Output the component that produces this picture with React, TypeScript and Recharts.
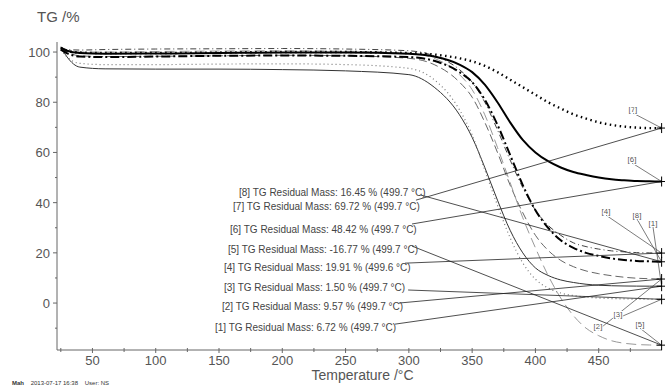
import { LineChart, Line, XAxis, YAxis, ReferenceLine, ReferenceDot } from 'recharts';

// temperatures (°C) shared by all series
const TEMPS = [25, 30, 40, 60, 100, 150, 200, 250, 300, 320, 340, 350, 360, 370, 380, 390, 400, 410, 420, 430, 440, 450, 460, 470, 480, 490, 499.7];

// TG (%) per sample
const S1 = [102, 98, 94, 93.3, 93.2, 93.2, 93, 92.5, 91, 86, 75, 66, 54, 41, 29, 20, 14, 11, 9.2, 8.2, 7.5, 7.1, 6.9, 6.8, 6.75, 6.73, 6.72];
const S2 = [101.5, 100, 98.5, 98.2, 98.3, 98.5, 98.7, 98.5, 97.5, 95, 88, 82, 72, 60, 47, 36, 27, 21, 17, 14.5, 12.8, 11.7, 10.9, 10.3, 9.9, 9.7, 9.57];
const S3 = [101, 98, 95.5, 95, 95, 95.2, 95.3, 95, 93.5, 89, 77, 67, 53, 39, 26, 16, 9.5, 6, 4, 3, 2.4, 2, 1.8, 1.65, 1.55, 1.52, 1.5];
const S4 = [102, 101, 100.8, 101, 101.2, 101.3, 101.4, 101.2, 100.5, 98.5, 93, 88, 80, 69, 57, 46, 37, 31, 27, 24, 22.5, 21.5, 20.8, 20.4, 20.1, 20, 19.91];
const S5 = [102, 100.5, 100, 100, 100.2, 100.4, 100.5, 100.3, 99.5, 97.5, 91, 85, 75, 62, 48, 34, 22, 11, 2, -5, -10, -13, -15, -16, -16.5, -16.7, -16.77];
const S6 = [101.8, 100.5, 99.6, 99.3, 99.4, 99.6, 99.8, 99.8, 99.3, 98.2, 95, 92, 87, 80, 72, 65, 60, 56.5, 54, 52.2, 51, 50, 49.3, 48.9, 48.6, 48.5, 48.42];
const S7 = [101.5, 100.5, 99.8, 99.6, 99.6, 99.8, 100, 100, 99.6, 99, 97.5, 96.3, 94.5, 92, 89, 86, 83, 80, 77.5, 75.2, 73.5, 72, 71, 70.3, 69.9, 69.7, 69.72];
const S8 = [101, 99.5, 98.2, 98, 98.2, 98.5, 98.6, 98.5, 98, 96.5, 92, 88, 81, 71, 59, 47, 37, 30, 25, 22, 20, 18.8, 17.8, 17.2, 16.8, 16.6, 16.45];

const X_TICKS = [25, 50, 75, 100, 125, 150, 175, 200, 225, 250, 275, 300, 325, 350, 375, 400, 425, 450, 475];
const Y_TICKS = [-10, 0, 10, 20, 30, 40, 50, 60, 70, 80, 90, 100];

// residual mass readouts
const IDS = ['1', '2', '3', '4', '5', '6', '7', '8'];
const RESIDUAL = [6.72, 9.57, 1.5, 19.91, -16.77, 48.42, 69.72, 16.45];
const AT_TEMP = [499.7, 499.7, 499.7, 499.6, 499.7, 499.7, 499.7, 499.7];
const END_T = 499.7;

// text box anchors (data units): [temp, value]
const BOX_POS = [[146.8, -11], [152.4, -2.6], [153.9, 5], [153.9, 12.9], [157.1, 20.1], [158.7, 28.1], [161.1, 36.9], [165.8, 42.8]];
const LEAD_FROM = [[289, -8.4], [292.2, 0], [299.4, 5.2], [297, 15.9], [302.5, 22.7], [302.5, 31.5], [305.6, 41], [309.6, 43]];
// little [n] tags next to the end crosses
const TAG_POS = [[492.9, 30.3], [449.4, -10.8], [465.2, -6], [455.8, 35], [482.6, -10], [476.3, 55.8], [477, 75.7], [480.2, 33.5]];

const STYLES = [
  { stroke: '#333', width: 1, dash: undefined },
  { stroke: '#666', width: 1, dash: '8 4' },
  { stroke: '#777', width: 1.2, dash: '1 3' },
  { stroke: '#444', width: 1, dash: '6 3 1 3' },
  { stroke: '#999', width: 1, dash: '10 5' },
  { stroke: '#000', width: 2, dash: undefined },
  { stroke: '#000', width: 2.4, dash: '1.5 3.5' },
  { stroke: '#000', width: 2, dash: '9 3 2 3' },
];

const SERIES = [S1, S2, S3, S4, S5, S6, S7, S8];
const rows = TEMPS.map((t, i) => {
  const r: Record<string, number> = { t };
  SERIES.forEach((s, k) => { r['s' + IDS[k]] = s[i]; });
  return r;
});

const FONT = 'Arial, "Liberation Sans", sans-serif';

function YTick(props: any) {
  const { x, y, payload } = props;
  const major = payload.value % 20 === 0;
  return (
    <g>
      <line x1={x - (major ? 4 : 2)} x2={x} y1={y} y2={y} stroke="#666" />
      {major && (
        <text x={x - 7} y={y + 5} textAnchor="end" fontSize={13} fill="#555" fontFamily={FONT}>{payload.value}</text>
      )}
    </g>
  );
}

function XTick(props: any) {
  const { x, y, payload } = props;
  const major = payload.value % 50 === 0;
  return (
    <g>
      <line x1={x} x2={x} y1={y - 2} y2={y + (major ? 3 : 2)} stroke="#666" />
      {major && (
        <text x={x} y={y + 15} textAnchor="middle" fontSize={13} fill="#555" fontFamily={FONT}>{payload.value}</text>
      )}
    </g>
  );
}

export default function App() {
  return (
    <div style={{ position: 'absolute', left: 0, top: 0, width: 665, height: 387, background: '#fff' }}>
      <div style={{ position: 'absolute', left: 37, top: 8, fontSize: 15, color: '#555', fontFamily: FONT }}>TG /%</div>
      <LineChart width={665} height={387} data={rows} margin={{ top: 42, right: 3, bottom: 17, left: 12 }}>
        <XAxis
          dataKey="t" type="number" domain={[22, 500]} ticks={X_TICKS} allowDataOverflow
          tick={<XTick />} tickLine={false} tickSize={0} tickMargin={0} height={20}
          axisLine={{ stroke: '#666' }} interval={0}
        />
        <YAxis
          type="number" domain={[-18.7, 104]} ticks={Y_TICKS} allowDataOverflow
          tick={<YTick />} tickLine={false} tickSize={0} tickMargin={0} width={45}
          axisLine={{ stroke: '#666' }} interval={0}
        />
        {SERIES.map((_, k) => (
          <Line
            key={k} dataKey={'s' + IDS[k]} type="monotone" dot={false} isAnimationActive={false}
            stroke={STYLES[k].stroke} strokeWidth={STYLES[k].width} strokeDasharray={STYLES[k].dash}
          />
        ))}
        {IDS.map((id, k) => (
          <ReferenceLine key={'l' + id} ifOverflow="visible" stroke="#222" strokeWidth={0.8}
            segment={[{ x: LEAD_FROM[k][0], y: LEAD_FROM[k][1] }, { x: END_T, y: RESIDUAL[k] }]} />
        ))}
        {IDS.map((id, k) => (
          <ReferenceLine key={'tl' + id} ifOverflow="visible" stroke="#444" strokeWidth={0.7}
            segment={[{ x: TAG_POS[k][0], y: TAG_POS[k][1] }, { x: END_T, y: RESIDUAL[k] }]} />
        ))}
        {IDS.map((id, k) => (
          <ReferenceDot key={'c' + id} x={END_T} y={RESIDUAL[k]} r={0} ifOverflow="visible"
            shape={(p: any) => (
              <g stroke="#000" strokeWidth={1}>
                <line x1={p.cx - 5} x2={p.cx + 5} y1={p.cy} y2={p.cy} />
                <line x1={p.cx} x2={p.cx} y1={p.cy - 5} y2={p.cy + 5} />
              </g>
            )} />
        ))}
        {IDS.map((id, k) => (
          <ReferenceDot key={'t' + id} x={TAG_POS[k][0]} y={TAG_POS[k][1]} r={0} ifOverflow="visible"
            shape={(p: any) => (
              <text x={p.cx} y={p.cy - 1} textAnchor="middle" fontSize={8} fill="#555" fontFamily={FONT}
                stroke="#fff" strokeWidth={2} paintOrder="stroke">[{id}]</text>
            )} />
        ))}
        {IDS.map((id, k) => (
          <ReferenceDot key={'b' + id} x={BOX_POS[k][0]} y={BOX_POS[k][1]} r={0} ifOverflow="visible"
            shape={(p: any) => (
              <text x={p.cx} y={p.cy} fontSize={10} fill="#444" fontFamily={FONT}>
                {`[${id}] TG Residual Mass: ${RESIDUAL[k].toFixed(2)} % (${AT_TEMP[k]} °C)`}
              </text>
            )} />
        ))}
      </LineChart>
      <div style={{ position: 'absolute', left: 0, width: 665, top: 368, lineHeight: '14px', textAlign: 'center', paddingLeft: 60, boxSizing: 'border-box', fontSize: 14, color: '#555', fontFamily: FONT }}>
        Temperature /°C
      </div>
      <div style={{ position: 'absolute', left: 12, top: 380, lineHeight: '6px', fontSize: 6, color: '#333', fontFamily: FONT, whiteSpace: 'pre' }}>
        <b>Mah</b>{'    2013-07-17 16:38    User: NS'}
      </div>
    </div>
  );
}
